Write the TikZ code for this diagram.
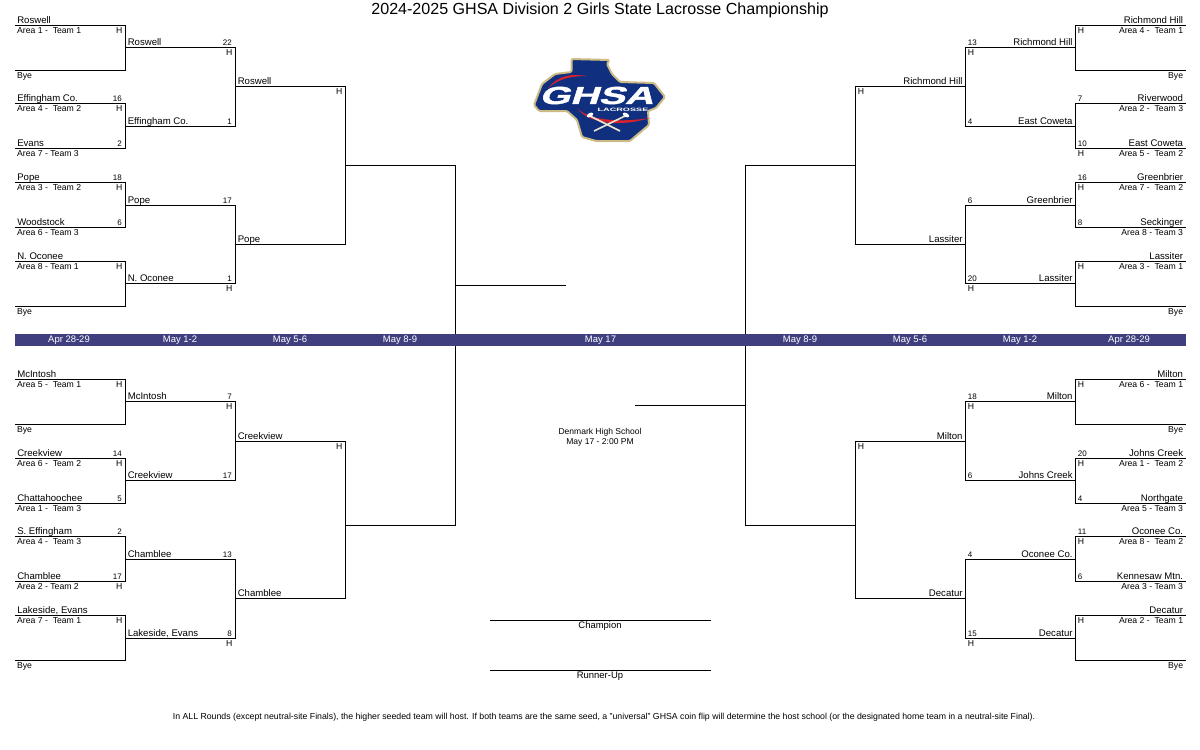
\documentclass[tikz,border=0pt]{standalone}
\usepackage{fontspec}
\setmainfont{Liberation Sans}
\newfontfamily\logofont[FakeBold=1.5]{Liberation Sans}
\usetikzlibrary{positioning}
\definecolor{bandblue}{HTML}{3F3F7F}
\definecolor{ghsanavy}{HTML}{10307F}
\definecolor{ghsagold}{HTML}{CDBB85}
\definecolor{ghsared}{HTML}{D8212F}

\begin{document}
\begin{tikzpicture}[
	x=.75pt, y=-.75pt,
	line/.style={draw=black, line width=.75pt},
	txt/.style={inner sep=0pt, text depth=0pt, font=\fontsize{7.2}{8}\selectfont},
	small/.style={inner sep=0pt, text depth=0pt, text height=4.5pt, font=\fontsize{6.5}{7}\selectfont},
	tiny/.style={inner sep=0pt, text depth=0pt, text height=4.3pt, font=\fontsize{6}{7}\selectfont},
	homefont/.style={inner sep=0pt, text depth=0pt, text height=4.6pt, font=\fontsize{6.5}{7}\selectfont},
	teamL/.style={txt, above right=1.25pt and 1.5pt of #1},
	teamR/.style={txt, above left=1.25pt and 2pt of #1},
	areaL/.style={small, below right=1.1pt and 1.4pt of #1},
	areaR/.style={small, below left=1.1pt and 2pt of #1},
	seedL/.style={tiny, anchor=south east, xshift=-2.6pt, yshift=1.2pt},
	seedR/.style={tiny, anchor=south west, xshift=1.6pt, yshift=1.2pt},
	homeL/.style={homefont, anchor=north east, xshift=-2.2pt, yshift=-1.5pt},
	homeR/.style={homefont, anchor=north west, xshift=1.5pt, yshift=-1.5pt},
	date/.style={text=white, inner sep=0pt, font=\fontsize{7.1}{8}\selectfont},
	note/.style={inner sep=0pt, align=center, font=\fontsize{6.4}{7.5}\selectfont},
	final/.style={inner sep=0pt, font=\fontsize{7.1}{8}\selectfont}
	]
	\useasboundingbox (0,0) rectangle (1200,750);

	% left side, top half
	\coordinate (a1) at (15,25.5);
	\coordinate (a2) at (15,70.5);
	\coordinate (a3) at (15,103.5);
	\coordinate (a4) at (15,148.5);
	\coordinate (a5) at (15,182.5);
	\coordinate (a6) at (15,227.5);
	\coordinate (a7) at (15,261.5);
	\coordinate (a8) at (15,306.5);
	\coordinate (b1) at (125.5,47.5);
	\coordinate (b2) at (125.5,126.5);
	\coordinate (b3) at (125.5,205.5);
	\coordinate (b4) at (125.5,283.5);
	\coordinate (c1) at (235.5,86.5);
	\coordinate (c2) at (235.5,244.5);
	\coordinate (d1) at (345.5,165.5);

	% left side, bottom half
	\coordinate (a9) at (15,379.5);
	\coordinate (a10) at (15,424.5);
	\coordinate (a11) at (15,458.5);
	\coordinate (a12) at (15,503.5);
	\coordinate (a13) at (15,536.5);
	\coordinate (a14) at (15,581.5);
	\coordinate (a15) at (15,615.5);
	\coordinate (a16) at (15,660.5);
	\coordinate (b5) at (125.5,401.5);
	\coordinate (b6) at (125.5,480.5);
	\coordinate (b7) at (125.5,559.5);
	\coordinate (b8) at (125.5,638.5);
	\coordinate (c3) at (235.5,441.5);
	\coordinate (c4) at (235.5,598.5);
	\coordinate (d2) at (345.5,525.5);
	\coordinate (e1) at (455.5,285.5);
	\coordinate (f1) at (566,285.5);

	% right side, top half
	\coordinate (ra1) at (1186,25.5);
	\coordinate (ra2) at (1186,70.5);
	\coordinate (ra3) at (1186,103.5);
	\coordinate (ra4) at (1186,148.5);
	\coordinate (ra5) at (1186,182.5);
	\coordinate (ra6) at (1186,227.5);
	\coordinate (ra7) at (1186,261.5);
	\coordinate (ra8) at (1186,306.5);
	\coordinate (rb1) at (1075.5,47.5);
	\coordinate (rb2) at (1075.5,126.5);
	\coordinate (rb3) at (1075.5,205.5);
	\coordinate (rb4) at (1075.5,283.5);
	\coordinate (rc1) at (965.5,86.5);
	\coordinate (rc2) at (965.5,244.5);
	\coordinate (rd1) at (855.5,165.5);

	% right side, bottom half
	\coordinate (ra9) at (1186,379.5);
	\coordinate (ra10) at (1186,424.5);
	\coordinate (ra11) at (1186,458.5);
	\coordinate (ra12) at (1186,503.5);
	\coordinate (ra13) at (1186,536.5);
	\coordinate (ra14) at (1186,581.5);
	\coordinate (ra15) at (1186,615.5);
	\coordinate (ra16) at (1186,660.5);
	\coordinate (rb5) at (1075.5,401.5);
	\coordinate (rb6) at (1075.5,480.5);
	\coordinate (rb7) at (1075.5,559.5);
	\coordinate (rb8) at (1075.5,638.5);
	\coordinate (rc3) at (965.5,441.5);
	\coordinate (rc4) at (965.5,598.5);
	\coordinate (rd2) at (855.5,525.5);
	\coordinate (re1) at (745.5,405.5);
	\coordinate (rf1) at (635,405.5);

	% brackets
	\draw [line] (a1) -| (b1) |- (a2);
	\draw [line] (a3) -| (b2) |- (a4);
	\draw [line] (a5) -| (b3) |- (a6);
	\draw [line] (a7) -| (b4) |- (a8);
	\draw [line] (a9) -| (b5) |- (a10);
	\draw [line] (a11) -| (b6) |- (a12);
	\draw [line] (a13) -| (b7) |- (a14);
	\draw [line] (a15) -| (b8) |- (a16);
	\draw [line] (b1) -| (c1) |- (b2);
	\draw [line] (b3) -| (c2) |- (b4);
	\draw [line] (b5) -| (c3) |- (b6);
	\draw [line] (b7) -| (c4) |- (b8);
	\draw [line] (c1) -| (d1) |- (c2);
	\draw [line] (c3) -| (d2) |- (c4);
	\draw [line] (d1) -| (e1) |- (d2);
	\draw [line] (e1)--(f1);

	\draw [line] (ra1) -| (rb1) |- (ra2);
	\draw [line] (ra3) -| (rb2) |- (ra4);
	\draw [line] (ra5) -| (rb3) |- (ra6);
	\draw [line] (ra7) -| (rb4) |- (ra8);
	\draw [line] (ra9) -| (rb5) |- (ra10);
	\draw [line] (ra11) -| (rb6) |- (ra12);
	\draw [line] (ra13) -| (rb7) |- (ra14);
	\draw [line] (ra15) -| (rb8) |- (ra16);
	\draw [line] (rb1) -| (rc1) |- (rb2);
	\draw [line] (rb3) -| (rc2) |- (rb4);
	\draw [line] (rb5) -| (rc3) |- (rb6);
	\draw [line] (rb7) -| (rc4) |- (rb8);
	\draw [line] (rc1) -| (rd1) |- (rc2);
	\draw [line] (rc3) -| (rd2) |- (rc4);
	\draw [line] (rd1) -| (re1) |- (rd2);
	\draw [line] (re1)--(rf1);

	% title and dates
	\node (title) [inner sep=0pt, font=\fontsize{12.05}{14}\selectfont] at (600,10.5) {2024-2025 GHSA Division 2 Girls State Lacrosse Championship};
	\node (band) [fill=bandblue, inner sep=0pt, minimum width=878.25pt, minimum height=9.4pt] at (600.5,339.8) {};
	\node (date1) [date] at (69,340) {Apr 28-29};
	\node (date2) [date] at (180,340) {May 1-2};
	\node (date3) [date] at (290,340) {May 5-6};
	\node (date4) [date] at (400,340) {May 8-9};
	\node (date5) [date] at (600.5,340) {May 17};
	\node (date6) [date] at (800,340) {May 8-9};
	\node (date7) [date] at (910,340) {May 5-6};
	\node (date8) [date] at (1020,340) {May 1-2};
	\node (date9) [date] at (1129,340) {Apr 28-29};

	% left labels, first round
	\node (t1) [teamL=a1] {Roswell};
	\node (x1) [areaL=a1] {Area 1 -\ \ Team 1};
	\node (h1) [homeL] at (b1 |- a1) {H};
	\node (x2) [areaL=a2] {Bye};
	\node (t3) [teamL=a3] {Effingham Co.};
	\node (x3) [areaL=a3] {Area 4 -\ \ Team 2};
	\node (s3) [seedL] at (b2 |- a3) {16};
	\node (h3) [homeL] at (b2 |- a3) {H};
	\node (t4) [teamL=a4] {Evans};
	\node (x4) [areaL=a4] {Area 7 - Team 3};
	\node (s4) [seedL] at (b2 |- a4) {2};
	\node (t5) [teamL=a5] {Pope};
	\node (x5) [areaL=a5] {Area 3 -\ \ Team 2};
	\node (s5) [seedL] at (b3 |- a5) {18};
	\node (h5) [homeL] at (b3 |- a5) {H};
	\node (t6) [teamL=a6] {Woodstock};
	\node (x6) [areaL=a6] {Area 6 - Team 3};
	\node (s6) [seedL] at (b3 |- a6) {6};
	\node (t7) [teamL=a7] {N. Oconee};
	\node (x7) [areaL=a7] {Area 8 - Team 1};
	\node (h7) [homeL] at (b4 |- a7) {H};
	\node (x8) [areaL=a8] {Bye};
	\node (t9) [teamL=a9] {McIntosh};
	\node (x9) [areaL=a9] {Area 5 -\ \ Team 1};
	\node (h9) [homeL] at (b5 |- a9) {H};
	\node (x10) [areaL=a10] {Bye};
	\node (t11) [teamL=a11] {Creekview};
	\node (x11) [areaL=a11] {Area 6 -\ \ Team 2};
	\node (s11) [seedL] at (b6 |- a11) {14};
	\node (h11) [homeL] at (b6 |- a11) {H};
	\node (t12) [teamL=a12] {Chattahoochee};
	\node (x12) [areaL=a12] {Area 1 -\ \ Team 3};
	\node (s12) [seedL] at (b6 |- a12) {5};
	\node (t13) [teamL=a13] {S. Effingham};
	\node (x13) [areaL=a13] {Area 4 -\ \ Team 3};
	\node (s13) [seedL] at (b7 |- a13) {2};
	\node (t14) [teamL=a14] {Chamblee};
	\node (x14) [areaL=a14] {Area 2 - Team 2};
	\node (s14) [seedL] at (b7 |- a14) {17};
	\node (h14) [homeL] at (b7 |- a14) {H};
	\node (t15) [teamL=a15] {Lakeside, Evans};
	\node (x15) [areaL=a15] {Area 7 -\ \ Team 1};
	\node (h15) [homeL] at (b8 |- a15) {H};
	\node (x16) [areaL=a16] {Bye};

	% left labels, later rounds
	\node (u1) [teamL=b1] {Roswell};
	\node (us1) [seedL] at (c1 |- b1) {22};
	\node (uh1) [homeL] at (c1 |- b1) {H};
	\node (u2) [teamL=b2] {Effingham Co.};
	\node (us2) [seedL] at (c1 |- b2) {1};
	\node (u3) [teamL=b3] {Pope};
	\node (us3) [seedL] at (c2 |- b3) {17};
	\node (u4) [teamL=b4] {N. Oconee};
	\node (us4) [seedL] at (c2 |- b4) {1};
	\node (uh4) [homeL] at (c2 |- b4) {H};
	\node (u5) [teamL=b5] {McIntosh};
	\node (us5) [seedL] at (c3 |- b5) {7};
	\node (uh5) [homeL] at (c3 |- b5) {H};
	\node (u6) [teamL=b6] {Creekview};
	\node (us6) [seedL] at (c3 |- b6) {17};
	\node (u7) [teamL=b7] {Chamblee};
	\node (us7) [seedL] at (c4 |- b7) {13};
	\node (u8) [teamL=b8] {Lakeside, Evans};
	\node (us8) [seedL] at (c4 |- b8) {8};
	\node (uh8) [homeL] at (c4 |- b8) {H};
	\node (v1) [teamL=c1] {Roswell};
	\node (vh1) [homeL] at (d1 |- c1) {H};
	\node (v2) [teamL=c2] {Pope};
	\node (v3) [teamL=c3] {Creekview};
	\node (vh3) [homeL] at (d2 |- c3) {H};
	\node (v4) [teamL=c4] {Chamblee};

	% right labels, first round
	\node (rt1) [teamR=ra1] {Richmond Hill};
	\node (rx1) [areaR=ra1] {Area 4 -\ \ Team 1};
	\node (rh1) [homeR] at (rb1 |- ra1) {H};
	\node (rx2) [areaR=ra2] {Bye};
	\node (rt3) [teamR=ra3] {Riverwood};
	\node (rx3) [areaR=ra3] {Area 2 -\ \ Team 3};
	\node (rs3) [seedR] at (rb2 |- ra3) {7};
	\node (rt4) [teamR=ra4] {East Coweta};
	\node (rx4) [areaR=ra4] {Area 5 -\ \ Team 2};
	\node (rs4) [seedR] at (rb2 |- ra4) {10};
	\node (rh4) [homeR] at (rb2 |- ra4) {H};
	\node (rt5) [teamR=ra5] {Greenbrier};
	\node (rx5) [areaR=ra5] {Area 7 -\ \ Team 2};
	\node (rs5) [seedR] at (rb3 |- ra5) {16};
	\node (rh5) [homeR] at (rb3 |- ra5) {H};
	\node (rt6) [teamR=ra6] {Seckinger};
	\node (rx6) [areaR=ra6] {Area 8 - Team 3};
	\node (rs6) [seedR] at (rb3 |- ra6) {8};
	\node (rt7) [teamR=ra7] {Lassiter};
	\node (rx7) [areaR=ra7] {Area 3 -\ \ Team 1};
	\node (rh7) [homeR] at (rb4 |- ra7) {H};
	\node (rx8) [areaR=ra8] {Bye};
	\node (rt9) [teamR=ra9] {Milton};
	\node (rx9) [areaR=ra9] {Area 6 -\ \ Team 1};
	\node (rh9) [homeR] at (rb5 |- ra9) {H};
	\node (rx10) [areaR=ra10] {Bye};
	\node (rt11) [teamR=ra11] {Johns Creek};
	\node (rx11) [areaR=ra11] {Area 1 -\ \ Team 2};
	\node (rs11) [seedR] at (rb6 |- ra11) {20};
	\node (rh11) [homeR] at (rb6 |- ra11) {H};
	\node (rt12) [teamR=ra12] {Northgate};
	\node (rx12) [areaR=ra12] {Area 5 - Team 3};
	\node (rs12) [seedR] at (rb6 |- ra12) {4};
	\node (rt13) [teamR=ra13] {Oconee Co.};
	\node (rx13) [areaR=ra13] {Area 8 -\ \ Team 2};
	\node (rs13) [seedR] at (rb7 |- ra13) {11};
	\node (rh13) [homeR] at (rb7 |- ra13) {H};
	\node (rt14) [teamR=ra14] {Kennesaw Mtn.};
	\node (rx14) [areaR=ra14] {Area 3 - Team 3};
	\node (rs14) [seedR] at (rb7 |- ra14) {6};
	\node (rt15) [teamR=ra15] {Decatur};
	\node (rx15) [areaR=ra15] {Area 2 -\ \ Team 1};
	\node (rh15) [homeR] at (rb8 |- ra15) {H};
	\node (rx16) [areaR=ra16] {Bye};

	% right labels, later rounds
	\node (ru1) [teamR=rb1] {Richmond Hill};
	\node (rus1) [seedR] at (rc1 |- rb1) {13};
	\node (ruh1) [homeR] at (rc1 |- rb1) {H};
	\node (ru2) [teamR=rb2] {East Coweta};
	\node (rus2) [seedR] at (rc1 |- rb2) {4};
	\node (ru3) [teamR=rb3] {Greenbrier};
	\node (rus3) [seedR] at (rc2 |- rb3) {6};
	\node (ru4) [teamR=rb4] {Lassiter};
	\node (rus4) [seedR] at (rc2 |- rb4) {20};
	\node (ruh4) [homeR] at (rc2 |- rb4) {H};
	\node (ru5) [teamR=rb5] {Milton};
	\node (rus5) [seedR] at (rc3 |- rb5) {18};
	\node (ruh5) [homeR] at (rc3 |- rb5) {H};
	\node (ru6) [teamR=rb6] {Johns Creek};
	\node (rus6) [seedR] at (rc3 |- rb6) {6};
	\node (ru7) [teamR=rb7] {Oconee Co.};
	\node (rus7) [seedR] at (rc4 |- rb7) {4};
	\node (ru8) [teamR=rb8] {Decatur};
	\node (rus8) [seedR] at (rc4 |- rb8) {15};
	\node (ruh8) [homeR] at (rc4 |- rb8) {H};
	\node (rv1) [teamR=rc1] {Richmond Hill};
	\node (rvh1) [homeR] at (rd1 |- rc1) {H};
	\node (rv2) [teamR=rc2] {Lassiter};
	\node (rv3) [teamR=rc3] {Milton};
	\node (rvh3) [homeR] at (rd2 |- rc3) {H};
	\node (rv4) [teamR=rc4] {Decatur};

	% centre
	\node (site) [note] at (600,437) {Denmark High School\\May 17 - 2:00 PM};
	\coordinate (champa) at (490,620.5);
	\coordinate (champb) at (711,620.5);
	\coordinate (runa) at (490,670.5);
	\coordinate (runb) at (711,670.5);
	\draw [line] (champa)--(champb);
	\draw [line] (runa)--(runb);
	\node (champ) [final] at (600,626) {Champion};
	\node (runner) [final] at (600,676) {Runner-Up};
	\node (foot) [inner sep=0pt, font=\fontsize{6.56}{7}\selectfont] at (604,717) {In ALL Rounds (except neutral-site Finals), the higher seeded team will host. If both teams are the same seed, a "universal" GHSA coin flip will determine the host school (or the designated home team in a neutral-site Final).};

	% logo
	\draw [fill=ghsanavy, draw=ghsagold, line width=1.5pt, line join=round, rounded corners=1pt]
		(571.5,59) -- (609.5,60) -- (607,64) -- (612,74) -- (620,82) -- (654,83) -- (665,97)
		-- (656,108) -- (648,111) -- (649,125) -- (637,135) -- (630,141) -- (596,141) -- (582,137)
		-- (577,120) -- (567,111) -- (539,111) -- (534,105) -- (542,84) -- (555,74) -- (571.5,72) -- cycle;
	\fill [ghsared] (548,88) .. controls (560,74) and (572,74) .. (587,76) .. controls (572,76) and (560,78) .. (548,88) -- cycle;
	\fill [ghsared] (577,108) .. controls (590,122) and (625,122) .. (650,118) .. controls (625,126) and (590,126) .. (577,108) -- cycle;
	\node (ghsa) [inner sep=0pt, text=white, xscale=1.6, xslant=.2, font=\logofont\fontsize{18.5}{20}\bfseries\selectfont] at (599,95.5) {GHSA};
	\node (lacrosse) [inner sep=0pt, text=white, xscale=1.9, font=\fontsize{3.6}{4}\bfseries\selectfont] at (623,110) {LACROSSE};
	\draw [ghsagold!40, line width=1.2pt] (590,116) -- (620,131);
	\draw [ghsagold!40, line width=1.2pt] (625,116) -- (594,131);
	\fill [white, rotate around={28:(590,115)}] (590,115) ellipse (3.5 and 2);
	\fill [white, rotate around={-28:(626,115)}] (626,115) ellipse (3.5 and 2);
\end{tikzpicture}
\end{document}
